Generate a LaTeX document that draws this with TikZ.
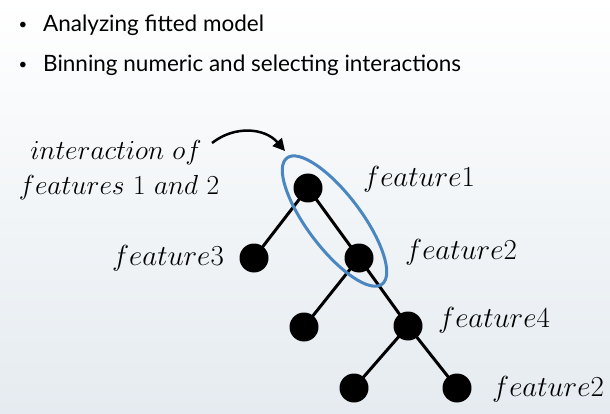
\RequirePackage{fix-cm}
\documentclass[tikz,border=0pt]{standalone}
\usepackage{fontspec}
\setsansfont{Lato}
\usetikzlibrary{calc,arrows.meta,positioning}

\definecolor{cRingBlue}{RGB}{74,134,192}
\definecolor{cBackLow}{RGB}{229,235,240}

\begin{document}
\begin{tikzpicture}[x=1pt,y=-1pt]

\tikzset{
    treeNode/.style={circle,fill=black,inner sep=0pt,minimum size=29pt},
    treeEdge/.style={line width=3pt},
    featLabel/.style={font=\fontsize{29}{32}\selectfont,inner sep=0pt,anchor=base west},
    noteText/.style={font=\fontsize{27.5}{31}\selectfont,inner sep=0pt,anchor=base},
    bulletText/.style={font=\sffamily\fontsize{22.5}{27}\selectfont,inner sep=0pt,anchor=base west},
    bulletDot/.style={font=\sffamily\fontsize{15}{18}\selectfont,inner sep=0pt}
}

% page and background
\shade[top color=white,bottom color=cBackLow] (0,0) rectangle (610,414);
\useasboundingbox (0,0) rectangle (610,414);

% the two bullet lines
\node[bulletDot] (dotA) at (23,26) {\textbullet};
\node[bulletText] (txtA) at (43,32) {Analyzing fitted model};
\node[bulletDot] (dotB) at (23,66) {\textbullet};
\node[bulletText] (txtB) at (43,72) {Binning numeric and selecting interactions};

% tree
\node[treeNode] (nF1) at (308,188) {};
\node[treeNode] (nF3) at (254,258) {};
\node[treeNode] (nF2) at (359,258) {};
\node[treeNode] (nLeaf) at (304,327) {};
\node[treeNode] (nF4) at (408,326) {};
\node[treeNode] (nLeafB) at (354,388) {};
\node[treeNode] (nF2b) at (457,388) {};

\foreach \a/\b in {nF1/nF3, nF1/nF2, nF2/nLeaf, nF2/nF4, nF4/nLeafB, nF4/nF2b}
{
    \draw[treeEdge] (\a.center) -- (\b.center);
}

\node[featLabel] (lblF1) at (363,187) {$feature1$};
\node[featLabel] (lblF2) at (405,259) {$feature2$};
\node[featLabel,anchor=base east] (lblF3) at (224,265) {$feature3$};
\node[featLabel] (lblF4) at (438,327) {$feature4$};
\node[featLabel] (lblF2b) at (492,396) {$feature2$};

% ring round features 1 and 2
\coordinate (ringCtr) at ($(nF1)!0.5!(nF2)+(1,-2)$);
\draw[cRingBlue,line width=3pt,rotate around={-53:(ringCtr)}] (ringCtr) ellipse [x radius=79pt,y radius=27pt];

% note with its arrow
\node[noteText] (noteA) at (116,160) {$interaction\ of$};
\node[noteText] (noteB) at (119,195) {$features\ 1\ and\ 2$};
\coordinate (arrowStart) at (212,143);
\coordinate (arrowTip) at (285,151);
\draw[line width=2.5pt,-{Triangle[length=12pt,width=12pt]}] (arrowStart) .. controls (235,125) and (265,128) .. (arrowTip);

\end{tikzpicture}
\end{document}
